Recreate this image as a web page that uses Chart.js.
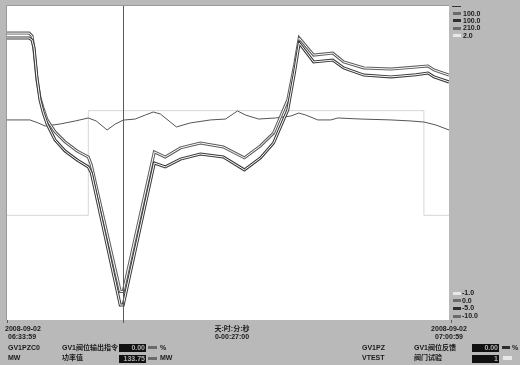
<!DOCTYPE html>
<html>
<head>
<meta charset="utf-8">
<script src="https://cdn.jsdelivr.net/npm/chart.js@4"></script>
<style>
body{margin:0;background:#b9b9b9;overflow:hidden;}
#wrap{position:relative;width:520px;height:365px;}
#trend{position:absolute;left:0;top:0;}
.t{position:absolute;font:bold 7px "Liberation Sans","Noto Sans CJK SC",sans-serif;color:#1a1a1a;white-space:nowrap;line-height:8px;}
.c{text-align:center;width:60px;}
.box{position:absolute;background:#111;color:#b0b0b0;text-align:right;font:bold 7px "Liberation Sans",sans-serif;line-height:8px;height:8px;width:27px;padding-right:1px;box-sizing:border-box;}
.sw{position:absolute;height:3px;width:8px;}
</style>
</head>
<body>
<div id="wrap">
<canvas id="trend" width="520" height="365"></canvas>
<div id="panel"></div>
</div>
<script>
// time in seconds from 06:33:59
let TIME_AB = [0,81,92,99,110,121,132,147,176,213,257,298,309,415,426,540,580,636,709,793,870,929,977,1029,1054,1071,1124,1194,1234,1308,1407,1499,1543,1565,1620];
let GV1PZC0 = [90.5,90.5,89.5,84.6,74.1,67.8,64.3,60.1,55.9,52.4,49.2,47.1,44.3,0,0,48.9,47.1,50.3,52.0,50.6,46.8,51.0,55.5,67.1,79.3,88.8,82.8,83.5,80.4,78.3,77.9,78.6,79.0,77.6,75.8];
let GV1PZ = [89.3,89.3,88.6,86.0,75.9,68.6,64.6,60.5,55.2,51.5,48.5,46.2,44.2,0,0,47.5,46.2,48.8,50.5,49.5,45.2,49.2,54.2,65.2,77.9,87.6,81.3,81.9,79.3,76.9,76.3,77.0,77.6,76.3,74.6];
let TIME_MW = [0,84,114,140,195,250,298,327,367,397,426,470,507,536,562,621,672,746,801,845,874,922,984,1040,1069,1095,1139,1187,1212,1297,1407,1480,1528,1572,1620];
let MW = [133.8,133.8,131.8,129.7,131.1,133.1,135.1,133.1,127.1,131.1,133.7,134.4,137.1,139.1,137.8,129.1,131.8,133.8,134.4,139.8,137.1,134.4,135.1,136.4,138.4,137.1,133.8,133.8,135.1,134.4,133.8,133.1,132.4,130.4,127.1];
let TIME_VT = [0,298,1528,1620];
let VTEST = [0,1,0,0];
let CURSOR_T = 425;
// range labels (top = max, bottom = min), order: GV1PZC0, GV1PZ, MW, VTEST
let RANGE_TOP = ['100.0','100.0','210.0','2.0'];
let RANGE_BOTTOM = ['-10.0','-5.0','0.0','-1.0'];
let SW_COLORS = ['#6a6a6a','#2e2e2e','#6a6a6a','#e8e8e8'];

function pts(t, v){ return t.map((x,i)=>({x:x, y:v[i]})); }

let panel = document.getElementById('panel');
function txt(s, x, y, cls){
    let d = document.createElement('div');
    d.className = 't' + (cls ? ' '+cls : '');
    d.style.left = x+'px'; d.style.top = y+'px';
    d.textContent = s;
    panel.appendChild(d);
}
function sw(x, y, col, w, h){
    let d = document.createElement('div');
    d.className = 'sw';
    d.style.left = x+'px'; d.style.top = y+'px'; d.style.background = col;
    if (w) d.style.width = w+'px';
    if (h) d.style.height = h+'px';
    panel.appendChild(d);
}
function box(s, x, y){
    let d = document.createElement('div');
    d.className = 'box';
    d.style.left = x+'px'; d.style.top = y+'px';
    d.textContent = s;
    panel.appendChild(d);
}

// right side range legend
sw(452, 6, '#333', 9, 1);
RANGE_TOP.forEach((s,i)=>{
    let y = [12,19,26.5,34][i];
    sw(453, y, SW_COLORS[i]);
    txt(s, 463, y-2.5);
});
[3,2,1,0].forEach((k,j)=>{
    let y = [291.5,299,306.5,314.5][j];
    sw(453, y, SW_COLORS[k]);
    txt(RANGE_BOTTOM[k], 462, y-2.5);
});

// bottom panel
txt('2008-09-02', 5, 325);
txt('06:33:59', 8, 333);
txt('天:时:分:秒', 202, 325, 'c');
txt('0-00:27:00', 202, 333, 'c');
txt('2008-09-02', 419, 325, 'c');
txt('07:00:59', 419, 333, 'c');
txt('GV1PZC0', 8, 344);
txt('GV1阀位输出指令', 62, 344);
box('0.00', 119, 344);
sw(148, 346, SW_COLORS[0], 9, 3);
txt('%', 160, 344);
txt('MW', 8, 354);
txt('功率值', 62, 354);
box('133.75', 119, 355);
sw(148, 357, SW_COLORS[2], 9, 3);
txt('MW', 160, 354);
txt('GV1PZ', 362, 344);
txt('GV1阀位反馈', 414, 344);
box('0.00', 472, 344);
sw(502, 346, SW_COLORS[1], 8, 3);
txt('%', 512, 344);
txt('VTEST', 362, 354);
txt('阀门试验', 414, 354);
box('1', 472, 355);
sw(503, 356, SW_COLORS[3], 9, 4);

// plot background + cursor
let frame = {
    id: 'frame',
    beforeDraw(chart){
        let c = chart.ctx, a = chart.chartArea;
        c.save();
        c.fillStyle = '#b9b9b9';
        c.fillRect(0, 0, chart.width, chart.height);
        c.fillStyle = '#ffffff';
        c.fillRect(a.left, a.top, a.right-a.left, a.bottom-a.top);
        c.strokeStyle = '#999';
        c.lineWidth = 1;
        c.beginPath();
        c.moveTo(a.left-0.5, a.bottom); c.lineTo(a.left-0.5, a.top-0.5); c.lineTo(a.right, a.top-0.5);
        c.stroke();
        c.restore();
    },
    afterDatasetsDraw(chart){
        let c = chart.ctx, a = chart.chartArea;
        let x = Math.round(chart.scales.x.getPixelForValue(CURSOR_T)) + 0.5;
        c.save();
        c.strokeStyle = '#5a5a5a';
        c.lineWidth = 1;
        c.beginPath();
        c.moveTo(x, a.top); c.lineTo(x, a.bottom+3);
        c.stroke();
        c.beginPath();
        c.moveTo(a.left+0.5, a.bottom); c.lineTo(a.left+0.5, a.bottom+3);
        c.moveTo(a.right+2.5, a.bottom); c.lineTo(a.right+2.5, a.bottom+3);
        c.stroke();
        c.restore();
    }
};

// outline + white core make the hollow trend pens; lower order draws on top
let ctx = document.getElementById('trend').getContext('2d');
new Chart(ctx, {
    type: 'line',
    data: {
        datasets: [
            { data: pts(TIME_VT, VTEST), yAxisID: 'yD', borderColor: '#d6d6d6', borderWidth: 1, stepped: true, order: 6 },
            { data: pts(TIME_MW, MW), yAxisID: 'yC', borderColor: '#555555', borderWidth: 1, order: 5 },
            { data: pts(TIME_AB, GV1PZC0), yAxisID: 'yA', borderColor: '#5e5e5e', borderWidth: 3, order: 4 },
            { data: pts(TIME_AB, GV1PZC0), yAxisID: 'yA', borderColor: '#ffffff', borderWidth: 1, order: 3 },
            { data: pts(TIME_AB, GV1PZ), yAxisID: 'yB', borderColor: '#3a3a3a', borderWidth: 3, order: 2 },
            { data: pts(TIME_AB, GV1PZ), yAxisID: 'yB', borderColor: '#ffffff', borderWidth: 1, order: 1 }
        ]
    },
    options: {
        responsive: false,
        animation: false,
        layout: { padding: { left: 7, top: 6, right: 71, bottom: 45 } },
        elements: { point: { radius: 0 }, line: { tension: 0, fill: false } },
        plugins: { legend: { display: false }, tooltip: { enabled: false } },
        scales: {
            x: { type: 'linear', min: 0, max: 1620, display: false },
            yA: { min: parseFloat(RANGE_BOTTOM[0]), max: parseFloat(RANGE_TOP[0]), display: false },
            yB: { min: parseFloat(RANGE_BOTTOM[1]), max: parseFloat(RANGE_TOP[1]), display: false },
            yC: { min: parseFloat(RANGE_BOTTOM[2]), max: parseFloat(RANGE_TOP[2]), display: false },
            yD: { min: parseFloat(RANGE_BOTTOM[3]), max: parseFloat(RANGE_TOP[3]), display: false }
        }
    },
    plugins: [frame]
});
</script>
</body>
</html>
